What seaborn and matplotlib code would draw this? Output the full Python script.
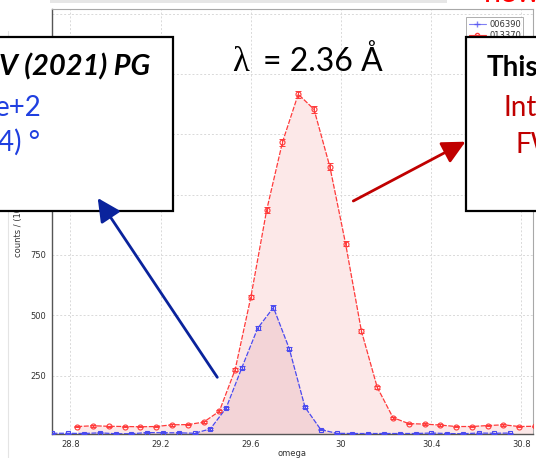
import numpy as np
import pandas as pd
import matplotlib
matplotlib.use("Agg")
import matplotlib.pyplot as plt
import seaborn as sns
from matplotlib.patches import Rectangle, FancyArrowPatch, ArrowStyle
from matplotlib.lines import Line2D
from matplotlib.ticker import MultipleLocator

# ---------------- data ----------------
blue_label = "006390"
red_label = "013370"

blue_omega = [28.72, 28.79, 28.86, 28.93, 29.00, 29.07, 29.14, 29.21, 29.28, 29.35,
              29.42, 29.49, 29.56, 29.63, 29.70, 29.77, 29.84, 29.91, 29.98, 30.05,
              30.12, 30.19, 30.26, 30.33, 30.40, 30.47, 30.54, 30.61, 30.68, 30.75]
blue_counts = [11, 11, 10, 13, 9, 9, 14, 13, 13, 11,
               29, 115, 283, 446, 532, 362, 119, 26, 11, 10,
               10, 10, 10, 10, 12, 10, 9, 12, 11, 12]
blue_err = [2, 2, 2, 2, 2, 2, 2, 2, 2, 2,
            3, 5, 7, 9, 10, 8, 5, 3, 2, 2,
            2, 2, 2, 2, 2, 2, 2, 2, 2, 2]

red_omega = [28.83, 28.90, 28.97, 29.04, 29.11, 29.18, 29.25, 29.32, 29.39, 29.46,
             29.53, 29.60, 29.67, 29.74, 29.81, 29.88, 29.95, 30.02, 30.09, 30.16,
             30.23, 30.30, 30.37, 30.44, 30.51, 30.58, 30.65, 30.72, 30.79, 30.86]
red_counts = [39, 42, 40, 39, 38, 39, 46, 47, 57, 102,
              274, 576, 936, 1217, 1416, 1353, 1116, 796, 435, 202,
              76, 51, 49, 45, 39, 39, 43, 46, 39, 40]
red_err = [3, 3, 3, 3, 3, 3, 3, 3, 3, 4,
           7, 10, 12, 14, 15, 15, 13, 11, 8, 6,
           4, 3, 3, 3, 3, 3, 3, 3, 3, 3]

x_ticks = [28.8, 29.2, 29.6, 30.0, 30.4, 30.8]
x_tick_labels = ["28.8", "29.2", "29.6", "30", "30.4", "30.8"]
y_ticks = [250, 500, 750, 1000, 1250, 1500, 1750]
y_tick_labels = ["250", "500", "750", "1000", "1250", "1500", ""]

df = pd.concat([
    pd.DataFrame({"omega": blue_omega, "counts": blue_counts, "run": blue_label}),
    pd.DataFrame({"omega": red_omega, "counts": red_counts, "run": red_label}),
])

# ---------------- figure ----------------
W, H = 536, 458
sns.set_style("white")
plt.rcParams["font.family"] = ["DejaVu Sans"]
fig = plt.figure(figsize=(W / 100, H / 100), dpi=100)
fig.patch.set_facecolor("white")

ax_left, ax_right, ax_top, ax_bottom = 52, 533, 9, 434
ax = fig.add_axes([ax_left / W, 1 - ax_bottom / H,
                   (ax_right - ax_left) / W, (ax_bottom - ax_top) / H])

RED = "#ff3a3a"
BLUE = "#4a4af0"

ax.fill_between(red_omega, 0, red_counts, color="#fce8e8", lw=0, zorder=1)
ax.fill_between(blue_omega, 0, blue_counts, color="#f3d4d7", lw=0, zorder=1.5)

sns.lineplot(data=df[df.run == red_label], x="omega", y="counts", ax=ax,
             color=RED, lw=0.9, marker="o", markersize=3.6, markerfacecolor="none",
             markeredgecolor=RED, markeredgewidth=0.8, dashes=(4, 1.2),
             zorder=3, legend=False)
sns.lineplot(data=df[df.run == blue_label], x="omega", y="counts", ax=ax,
             color=BLUE, lw=0.9, marker="s", markersize=3.4, markerfacecolor="none",
             markeredgecolor=BLUE, markeredgewidth=0.8, dashes=(4, 1.2),
             zorder=3, legend=False)
ax.errorbar(red_omega, red_counts, yerr=red_err, fmt="none", ecolor=RED,
            elinewidth=0.7, capsize=2, capthick=0.7, zorder=3)
ax.errorbar(blue_omega, blue_counts, yerr=blue_err, fmt="none", ecolor=BLUE,
            elinewidth=0.7, capsize=2, capthick=0.7, zorder=3)

ax.set_xlim(28.718, 30.851)
ax.set_ylim(8, 1769)
ax.set_xticks(x_ticks)
ax.set_xticklabels(x_tick_labels)
ax.set_yticks(y_ticks)
ax.set_yticklabels(y_tick_labels)
ax.xaxis.set_minor_locator(MultipleLocator(0.1))
ax.yaxis.set_minor_locator(MultipleLocator(50))
ax.tick_params(which="major", direction="inout", length=4, width=0.8, color="#555555",
               labelsize=6, labelcolor="#333333", pad=2)
ax.tick_params(which="minor", direction="in", length=2.5, width=0.7, color="#555555")
ax.grid(True, which="major", ls=(0, (2, 2)), lw=0.7, color="#d9d9d9", zorder=0)
ax.set_axisbelow(True)
for s in ["left", "bottom"]:
    ax.spines[s].set_color("#555555")
    ax.spines[s].set_linewidth(1.0)
for s in ["top", "right"]:
    ax.spines[s].set_color("#a8a8a8")
    ax.spines[s].set_linewidth(0.8)
ax.set_xlabel("omega", fontsize=6, color="#333333", labelpad=0.5)
ax.set_ylabel("")

# legend (mostly hidden behind the box)
handles = [Line2D([], [], color=BLUE, lw=0.8, marker="+", markersize=4, alpha=0.7),
           Line2D([], [], color=RED, lw=0.8, marker="o", markersize=3,
                  markerfacecolor="none")]
leg = fig.legend(handles, [blue_label, red_label], loc="upper left",
                 bbox_to_anchor=(462 / W, 1 - 13 / H), fontsize=6, frameon=True,
                 fancybox=False, edgecolor="#999999", handlelength=2.1,
                 borderpad=0.3, labelspacing=0.25, handletextpad=0.35)
leg.get_frame().set_linewidth(0.7)
for t in leg.get_texts():
    t.set_color("#333333")

# y label (partly hidden behind the box)
fig.text(18 / W, 1 - 257 / H, "counts / (10", rotation=90, fontsize=6,
         color="#333333", ha="center", va="bottom")

# window frame decorations
fig.add_artist(Rectangle((50 / W, 1 - 3 / H), (447 - 50) / W, 3 / H,
                         transform=fig.transFigure, color="#e6e6e6", lw=0, zorder=1))
fig.add_artist(Line2D([8 / W, 8 / W], [1 - 31 / H, 0], transform=fig.transFigure,
                      color="#e4e4e4", lw=0.8, zorder=1))


def ft(x, y, s, **kw):
    return fig.text(x / W, 1 - y / H, s, **kw)


# top red partially visible text
ft(484, 2, "new", fontsize=22, color="#ff0000", family=["Lato", "DejaVu Sans"],
   va="baseline", ha="left", zorder=12)

# title-like annotation
ft(232, 71, "λ", fontsize=25, color="black", family=["Liberation Serif", "DejaVu Serif"],
   va="baseline", ha="left", zorder=12)
ft(263, 71, "= 2.36 Å", fontsize=23, color="black", family=["Lato", "DejaVu Sans"],
   va="baseline", ha="left", zorder=12)

# boxes
for (x0, x1) in [(-10, 172.7), (465.7, 546)]:
    fig.add_artist(Rectangle((x0 / W, 1 - 211 / H), (x1 - x0) / W, (211 - 37.3) / H,
                             transform=fig.transFigure, facecolor="white",
                             edgecolor="black", lw=1.6, zorder=10))

# left box text
ft(150, 75, "V (2021) PG", fontsize=21, color="black", fontweight="bold",
   fontstyle="italic", family=["Lato", "DejaVu Sans"], ha="right", va="baseline", zorder=12)
ft(42, 116, "e+2", fontsize=20, color="#1f3fe0", family=["Lato", "DejaVu Sans"],
   ha="right", va="baseline", zorder=12)
ft(40, 151, "4) °", fontsize=20, color="#1f3fe0", family=["Lato", "DejaVu Sans"],
   ha="right", va="baseline", zorder=12)

# right box text
ft(486.7, 76, "This", fontsize=20, color="black", fontweight="bold",
   family=["Lato", "DejaVu Sans"], ha="left", va="baseline", zorder=12)
ft(504, 116, "Int", fontsize=20, color="#c00000", family=["Lato", "DejaVu Sans"],
   ha="left", va="baseline", zorder=12)
ft(515.7, 153, "FW", fontsize=20, color="#c00000", family=["Lato", "DejaVu Sans"],
   ha="left", va="baseline", zorder=12)

# arrows
style = ArrowStyle("-|>", head_length=0.7, head_width=0.35)
fig.add_artist(FancyArrowPatch((217.3 / W, 1 - 377.3 / H), (97.7 / W, 1 - 198 / H),
                               transform=fig.transFigure, arrowstyle=style,
                               mutation_scale=20, lw=2.0, color="#0a239c",
                               shrinkA=0, shrinkB=0, zorder=13))
fig.add_artist(FancyArrowPatch((353.3 / W, 1 - 201 / H), (465.5 / W, 1 - 141.7 / H),
                               transform=fig.transFigure, arrowstyle=style,
                               mutation_scale=20, lw=2.0, color="#c00000",
                               shrinkA=0, shrinkB=0, zorder=13))

fig.savefig("out.png", dpi=100)
